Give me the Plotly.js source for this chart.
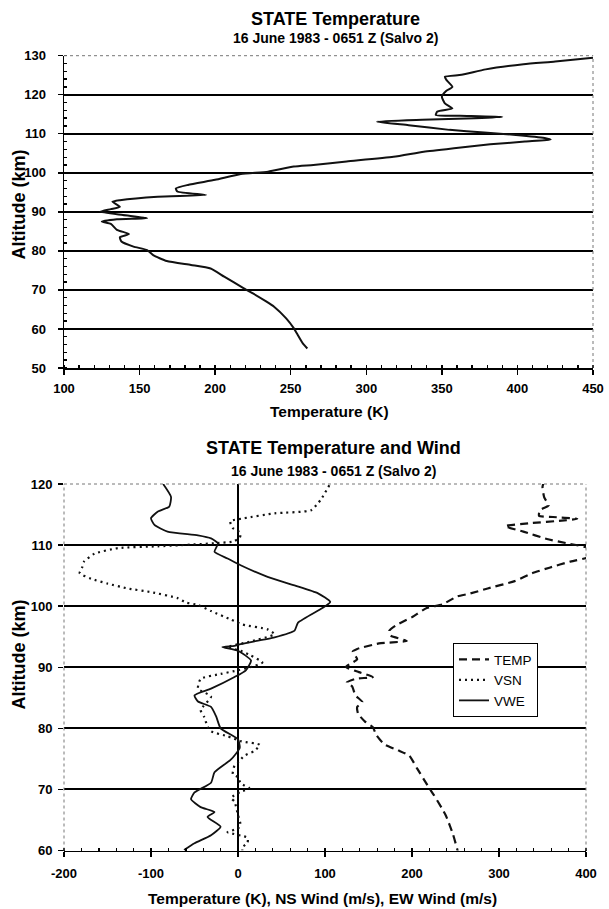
<!DOCTYPE html>
<html><head><meta charset="utf-8">
<script src="https://cdn.plot.ly/plotly-3.0.1.min.js"></script>
<style>html,body{margin:0;padding:0;background:#fff;}#chart{width:609px;height:909px;}</style>
</head><body><div id="chart"></div>
<script>
// ---- Data ----
// Temperature profile (K) vs altitude (km)
const tempAltitude = [55.0,56.3,58.9,60.2,62.7,65.7,67.0,69.1,70.4,73.4,75.5,76.4,77.4,78.9,80.2,81.1,82.4,83.5,84.3,85.4,86.9,87.5,88.1,88.4,89.2,90.05,90.7,91.3,92.6,93.0,93.9,94.3,95.2,96.0,96.9,98.2,99.7,100.3,101.6,102.0,102.9,104.1,105.4,106.3,107.3,108.0,108.5,108.9,109.7,110.3,111.0,112.2,113.1,113.6,114.0,114.3,114.6,114.8,115.7,116.5,117.8,119.5,121.0,122.0,123.8,124.6,125.1,126.5,127.8,128.5,129.5];
const temperature  = [261,258,254,252,247,239,234,225,219,206,197,184,168,159,155,146,138,137,143,135,131,125,135,155,139,124,131,137,132,137,162,194,175,174,182,200,217,235,252,265,287,318,338,358,382,405,422,418,399,378,355,328,307,337,372,390,362,346,347,357,352,350,353,357,353,352,363,379,404,425,450];

// East-west wind VWE (m/s)
const vweAltitude = [120.0,117.9,116.3,115.5,114.4,113.3,112.2,111.6,111.1,110.3,108.9,107.8,106.7,104.8,103.4,102.1,100.7,99.7,97.3,96.0,94.9,93.8,93.5,93.3,92.7,91.1,89.5,88.4,86.5,85.4,84.4,83.5,81.9,80.0,78.2,76.8,74.9,72.8,71.1,69.5,68.4,67.1,66.3,65.5,63.9,62.5,61.2,60.1];
const vwe         = [-86,-77,-79,-92,-100,-96,-81,-46,-31,-23,-27,-12,3,34,65,92,106,97,69,65,42,3,-4,-18,0,15,9,-4,-31,-50,-46,-31,-25,-20,0,2,-8,-27,-31,-50,-54,-43,-27,-35,-20,-31,-50,-62];

// North-south wind VSN (m/s)
const vsnAltitude = [119.8,117.4,115.7,115.2,114.4,113.9,112.8,112.0,111.2,110.6,110.3,109.8,109.5,108.6,107.3,106.4,105.4,104.5,103.7,102.9,102.3,101.3,100.6,100.2,99.2,97.8,97.0,96.2,95.4,94.1,93.3,92.7,91.9,90.8,90.2,89.5,88.9,88.1,86.5,85.2,83.0,81.9,80.3,79.5,78.7,77.9,77.3,76.3,75.5,74.4,73.9,72.5,72.0,71.0,70.2,69.6,68.6,68.0,65.8,64.1,63.6,63.0,62.1,61.3,60.5,60.0];
const vsn         = [105,95,84,42,7,-9,-6,3,2,-5,-27,-92,-138,-165,-177,-179,-182,-169,-150,-127,-100,-69,-60,-46,-31,-8,5,34,42,11,-12,3,15,28,19,0,-20,-43,-46,-31,-43,-39,-35,-31,-12,3,25,19,7,0,-4,-6,0,3,13,3,-8,-4,0,3,0,-12,11,11,5,5];

// Tick labels
const topTempTicks = [100,150,200,250,300,350,400,450];
const altTicksTop  = [50,60,70,80,90,100,110,120,130];
const bottomXTicks = [-200,-100,0,100,200,300,400];
const bottomXText  = ['-200','-100','0','100','200','300','400'];
const altTicksBottom = [60,70,80,90,100,110,120];

// ---- Layout helpers ----
const W = 609, H = 909;
const fx = p => p / W;
const fy = p => 1 - p / H;
const FONT = 'Liberation Sans, Arial, Helvetica, sans-serif';
const tickFont = {family: FONT, size: 13, color: '#000', weight: 'bold'};

const traces = [
  {x: temperature, y: tempAltitude, xaxis: 'x', yaxis: 'y', mode: 'lines', showlegend: false,
   line: {color: '#111', width: 2, shape: 'spline', smoothing: 0.5}, hoverinfo: 'skip'},
  {x: temperature, y: tempAltitude, xaxis: 'x2', yaxis: 'y2', mode: 'lines', name: 'TEMP',
   line: {color: '#111', width: 2.2, dash: '8px,5px', shape: 'spline', smoothing: 0.5}},
  {x: vsn, y: vsnAltitude, xaxis: 'x2', yaxis: 'y2', mode: 'lines', name: 'VSN',
   line: {color: '#111', width: 2.2, dash: '2px,4px', shape: 'spline', smoothing: 0.5}},
  {x: vwe, y: vweAltitude, xaxis: 'x2', yaxis: 'y2', mode: 'lines', name: 'VWE',
   line: {color: '#111', width: 1.8, shape: 'spline', smoothing: 0.5}}
];

const ann = (text, x, y, size, extra) => Object.assign({
  text: '<b>' + text + '</b>', xref: 'paper', yref: 'paper', x: fx(x), y: fy(y),
  xanchor: 'center', yanchor: 'middle', showarrow: false,
  font: {family: FONT, size: size, color: '#000'}
}, extra || {});

const dotted = {color: '#777', width: 1, dash: 'dot'};
const border = (xr, yr, x0, y0, x1, y1) => ({type: 'line', xref: xr, yref: yr, x0, y0, x1, y1, line: dotted, layer: 'above'});

const layout = {
  width: W, height: H,
  margin: {l: 0, r: 0, t: 0, b: 0},
  paper_bgcolor: '#fff', plot_bgcolor: '#fff',
  showlegend: true,
  legend: {x: fx(453), y: fy(643), xanchor: 'left', yanchor: 'top',
    bgcolor: '#fff', bordercolor: '#000', borderwidth: 1,
    font: {family: FONT, size: 13.5, color: '#000'}, itemwidth: 30, tracegroupgap: 0},
  xaxis: {domain: [fx(64), fx(593)], range: [100, 450], anchor: 'y',
    tickmode: 'array', tickvals: topTempTicks, ticks: 'outside', ticklen: 5, tickwidth: 1.4, tickcolor: '#000',
    showline: true, linecolor: '#000', linewidth: 1.5, showgrid: false, zeroline: false,
    tickfont: tickFont, ticklabelstandoff: 3,
    minor: {tickmode: 'linear', tick0: 100, dtick: 10, ticks: 'inside', ticklen: 3, tickcolor: '#000', showgrid: false}},
  yaxis: {domain: [fy(368), fy(55.7)], range: [50, 130], anchor: 'x',
    tickmode: 'array', tickvals: altTicksTop, ticks: 'outside', ticklen: 5, tickwidth: 1.4, tickcolor: '#000',
    showline: true, linecolor: '#000', linewidth: 1.5, showgrid: true, gridcolor: '#000', gridwidth: 2,
    zeroline: false, tickfont: tickFont, ticklabelstandoff: 9,
    minor: {tickmode: 'linear', tick0: 50, dtick: 2, ticks: 'inside', ticklen: 3, tickcolor: '#000', showgrid: false}},
  xaxis2: {domain: [fx(64), fx(586)], range: [-200, 400], anchor: 'y2',
    tickmode: 'array', tickvals: bottomXTicks, ticktext: bottomXText, ticks: 'outside', ticklen: 5, tickwidth: 1.4, tickcolor: '#000',
    showline: true, linecolor: '#000', linewidth: 1.5, showgrid: false,
    zeroline: true, zerolinecolor: '#000', zerolinewidth: 2,
    tickfont: tickFont, ticklabelstandoff: 5,
    minor: {tickmode: 'linear', tick0: -200, dtick: 20, ticks: 'inside', ticklen: 3, tickcolor: '#000', showgrid: false}},
  yaxis2: {domain: [fy(850.5), fy(484)], range: [60, 120], anchor: 'x2',
    tickmode: 'array', tickvals: altTicksBottom, ticks: 'outside', ticklen: 5, tickwidth: 1.4, tickcolor: '#000',
    showline: false, showgrid: true, gridcolor: '#000', gridwidth: 2, zeroline: false,
    tickfont: tickFont, ticklabelstandoff: 3},
  shapes: [
    border('x domain', 'y domain', 0, 1, 1, 1),
    border('x domain', 'y domain', 1, 0, 1, 1),
    border('x2 domain', 'y2 domain', 0, 1, 1, 1),
    border('x2 domain', 'y2 domain', 1, 0, 1, 1),
    border('x2 domain', 'y2 domain', 0, 0, 0, 1)
  ],
  annotations: [
    ann('STATE Temperature', 335, 19, 18),
    ann('16 June 1983 - 0651 Z (Salvo 2)', 335, 38, 14),
    ann('Temperature (K)', 329, 411, 15.5),
    ann('Altitude (km)', 18.5, 205, 18, {textangle: -90}),
    ann('STATE Temperature and Wind', 333.5, 448, 18),
    ann('16 June 1983 - 0651 Z (Salvo 2)', 333, 471, 14),
    ann('Temperature (K), NS Wind (m/s), EW Wind (m/s)', 322, 898, 15.5),
    ann('Altitude (km)', 18.5, 655, 18, {textangle: -90})
  ]
};

Plotly.newPlot('chart', traces, layout, {displayModeBar: false, staticPlot: true});
</script>
</body></html>
